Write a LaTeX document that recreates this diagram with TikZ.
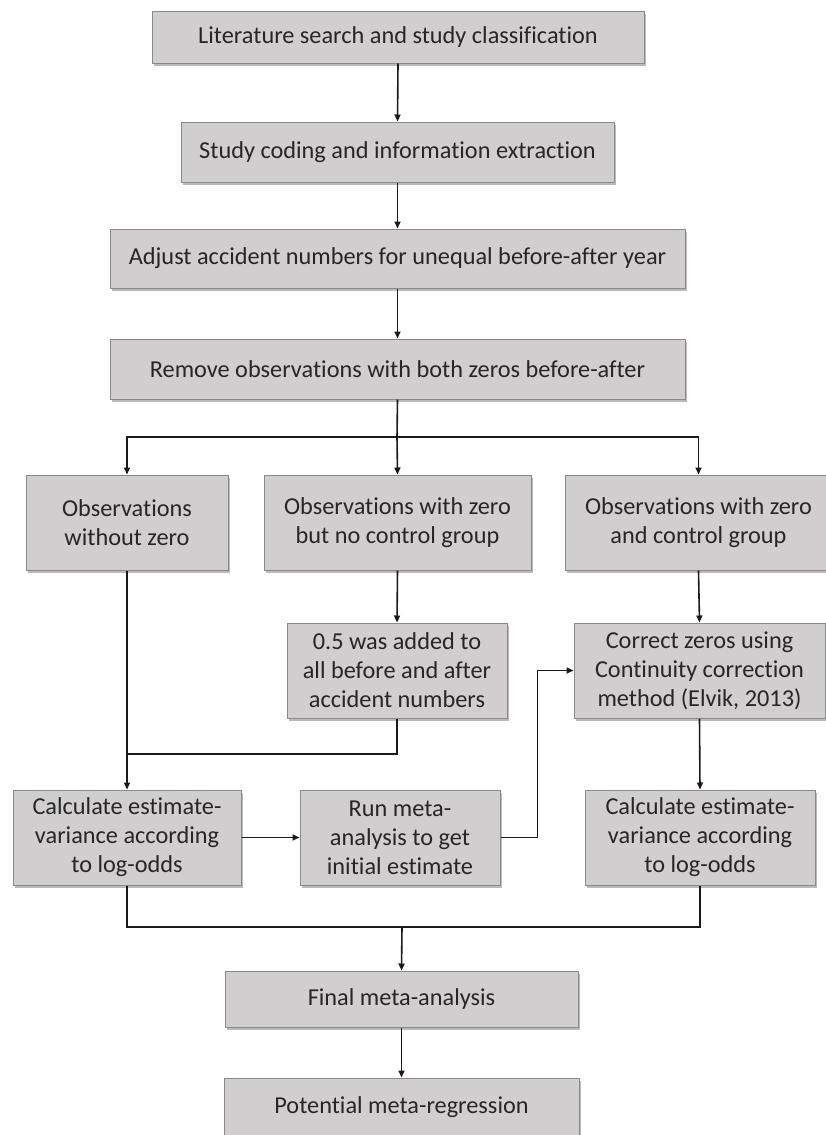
\documentclass[tikz,border=0pt]{standalone}
\usepackage{fontspec}
\setmainfont{Carlito}[Ligatures=NoCommon]
\usetikzlibrary{arrows.meta,shadows,calc}
\definecolor{boxfill}{HTML}{D0CECE}
\definecolor{boxline}{HTML}{8A8A8A}
\definecolor{txt}{HTML}{262626}
\definecolor{wire}{HTML}{1A1A1A}
\tikzset{
  box/.style={draw=boxline, line width=1pt, fill=boxfill, text=txt, align=center,
    inner sep=0pt, font=\fontsize{24.3}{29}\selectfont,
    drop shadow={shadow xshift=2pt, shadow yshift=-3pt, fill=black!45, opacity=0.6}},
  line/.style={draw=wire, line width=1.6pt},
  arr/.style={line, -{Triangle[width=6pt,length=7pt]}}
}
\begin{document}
\begin{tikzpicture}[x=1pt,y=-1pt]
\useasboundingbox (0,0) rectangle (826,1135);
\node[box, minimum width=492pt, minimum height=52pt] (b1) at (398,37) {Literature search and study classification};
\node[box, minimum width=433pt, minimum height=60pt] (b2) at (397.5,152) {Study coding and information extraction};
\node[box, minimum width=575pt, minimum height=59pt] (b3) at (397.5,258.5) {Adjust accident numbers for unequal before-after year};
\node[box, minimum width=575pt, minimum height=60pt] (b4) at (397.5,369) {Remove observations with both zeros before-after};
\node[box, minimum width=202pt, minimum height=95pt] (A) at (127,522.5) {Observations\\without zero};
\node[box, minimum width=267pt, minimum height=95pt] (B) at (397.5,522.5) {Observations with zero\\but no control group};
\node[box, minimum width=267pt, minimum height=95pt] (C) at (698.5,522.5) {Observations with zero\\and control group};
\node[box, minimum width=220pt, minimum height=95pt] (D) at (397,670.5) {0.5 was added to\\all before and after\\accident numbers};
\node[box, minimum width=251pt, minimum height=95pt] (E) at (699.5,670.5) {Correct zeros using\\Continuity correction\\method (Elvik, 2013)};
\node[box, minimum width=228pt, minimum height=95pt] (F) at (127,837.5) {Calculate estimate-\\variance according\\to log-odds};
\node[box, minimum width=200pt, minimum height=95pt] (G) at (400,837.5) {Run meta-\\analysis to get\\initial estimate};
\node[box, minimum width=230pt, minimum height=95pt] (H) at (700,837.5) {Calculate estimate-\\variance according\\to log-odds};
\node[box, minimum width=353pt, minimum height=56pt] (fin) at (401.5,999) {Final meta-analysis};
\node[box, minimum width=355pt, minimum height=58pt] (pot) at (401.5,1107) {Potential meta-regression};
\coordinate (br) at (397,437);
\coordinate (j) at (126,754);
\coordinate (m) at (402,927);
\draw[arr] (b1.south) -- (b2.north);
\draw[arr] (b2.south) -- (b3.north);
\draw[arr] (b3.south) -- (b4.north);
\draw[line] (b4.south) -- (br);
\draw[arr] (br) -| (A.north);
\draw[arr] (br) -- (B.north);
\draw[arr] (br) -| (C.north);
\draw[arr] (B.south) -- (D.north);
\draw[arr] (C.south) -- (E.north);
\draw[arr] (A.south) -- (F.north);
\draw[line] (D.south) |- (j);
\draw[arr] (E.south) -- (H.north);
\draw[arr] (F.east) -- (G.west);
\draw[arr] (G.east) -- ++(37,0) |- (E.west);
\draw[line] (F.south) |- (m);
\draw[line] (H.south) |- (m);
\draw[arr] (m) -- (fin.north);
\draw[arr] (fin.south) -- (pot.north);
\end{tikzpicture}
\end{document}
